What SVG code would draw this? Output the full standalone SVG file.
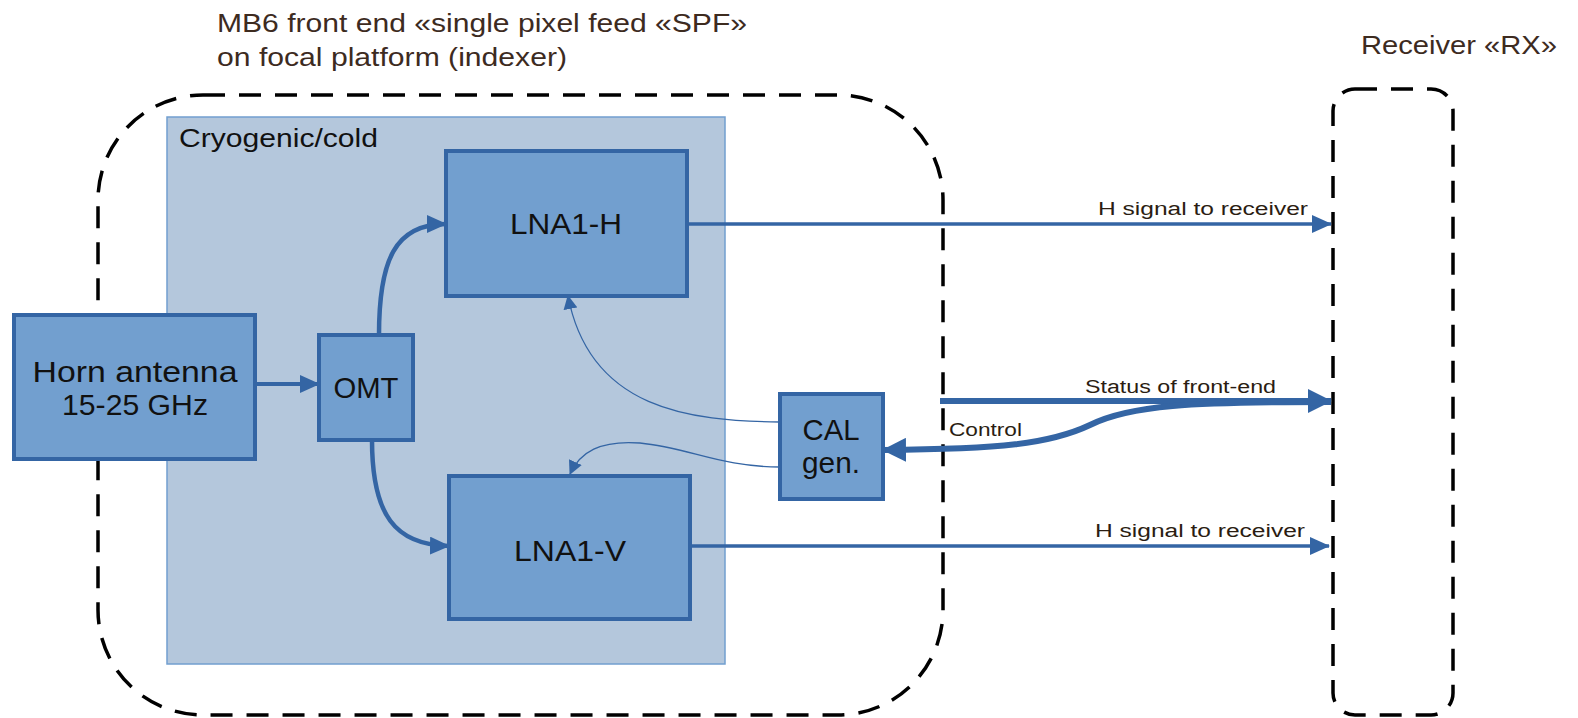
<svg xmlns="http://www.w3.org/2000/svg" width="1578" height="718" viewBox="0 0 1578 718">
<style>
.title{font-family:"Liberation Sans",Arial,sans-serif;font-size:25px;fill:#3d2b1f}
.lbl{font-family:"Liberation Sans",Arial,sans-serif;font-size:18px;fill:#2b1d12}
.node rect{fill:#729fcf;stroke:#3465a4;stroke-width:4}
.ntxt{font-family:"Liberation Sans",Arial,sans-serif;font-size:29px;fill:#111;text-anchor:middle}
.dash{fill:none;stroke:#000;stroke-width:3.5;stroke-dasharray:22 14}
.conn{fill:none;stroke:#3465a4}
</style>
<defs>
<marker id="aM" markerUnits="userSpaceOnUse" markerWidth="20" markerHeight="18" refX="19" refY="9" orient="auto"><path d="M0,0 L20,9 L0,18 z" fill="#3465a4"/></marker>
<marker id="aL" markerUnits="userSpaceOnUse" markerWidth="24" markerHeight="24" refX="23" refY="12" orient="auto"><path d="M0,0 L24,12 L0,24 z" fill="#3465a4"/></marker>
<marker id="aS" markerUnits="userSpaceOnUse" markerWidth="14" markerHeight="14" refX="13" refY="7" orient="auto"><path d="M0,0 L14,7 L0,14 z" fill="#3465a4"/></marker>
</defs>

<text class="title" x="217" y="32" textLength="530" lengthAdjust="spacingAndGlyphs">MB6 front end «single pixel feed «SPF»</text>
<text class="title" x="217" y="66" textLength="350" lengthAdjust="spacingAndGlyphs">on focal platform (indexer)</text>
<text class="title" x="1361" y="54" textLength="196" lengthAdjust="spacingAndGlyphs">Receiver «RX»</text>

<g id="frontend">
<rect class="dash" x="98" y="95" width="845" height="620" rx="105" ry="105"/>
</g>
<g id="receiver">
<rect class="dash" x="1333" y="89" width="120" height="626" rx="22" ry="22"/>
</g>
<g id="cryo">
<rect x="167" y="117" width="558" height="547" fill="#b4c7dc" stroke="#729fcf" stroke-width="1.5"/>
<text x="179" y="147" font-family="Liberation Sans,Arial,sans-serif" font-size="26" fill="#111" textLength="199" lengthAdjust="spacingAndGlyphs">Cryogenic/cold</text>
</g>

<g id="connectors">
<path class="conn" stroke-width="4" d="M255,384 L319,384" marker-end="url(#aM)"/>
<path class="conn" stroke-width="4.5" d="M379,335 C379,260 395,224 446,224" marker-end="url(#aM)"/>
<path class="conn" stroke-width="4.5" d="M372,440 C372,515 395,545 449,546" marker-end="url(#aM)"/>
<path class="conn" stroke-width="3.5" d="M687,224 L1331,224" marker-end="url(#aM)"/>
<path class="conn" stroke-width="3.5" d="M690,546 L1329,546" marker-end="url(#aM)"/>
<path class="conn" stroke-width="6" d="M940,401 L1331,401" marker-end="url(#aL)"/>
<path class="conn" stroke-width="6" d="M1331,402 C1190,402 1130,405 1090,425 C1050,444 1000,449 883,450" marker-end="url(#aL)"/>
<path class="conn" stroke-width="1.3" d="M780,422 C690,421 590,410 568,296" marker-end="url(#aS)"/>
<path class="conn" stroke-width="1.3" d="M780,467 C720,467 690,448 640,443 C600,440 580,452 570,474" marker-end="url(#aS)"/>
<text class="lbl" x="1098" y="215" textLength="210" lengthAdjust="spacingAndGlyphs">H  signal to receiver</text>
<text class="lbl" x="1095" y="537" textLength="210" lengthAdjust="spacingAndGlyphs">H  signal to receiver</text>
<text class="lbl" x="1085" y="393" textLength="191" lengthAdjust="spacingAndGlyphs">Status of front-end</text>
<text class="lbl" x="949" y="436" textLength="73" lengthAdjust="spacingAndGlyphs">Control</text>
</g>

<g id="horn" class="node">
<rect x="14" y="315" width="241" height="144"/>
<text class="ntxt" x="135" y="382" textLength="205" lengthAdjust="spacingAndGlyphs">Horn antenna</text>
<text class="ntxt" x="135" y="415" textLength="146" lengthAdjust="spacingAndGlyphs">15-25 GHz</text>
</g>
<g id="omt" class="node">
<rect x="319" y="335" width="94" height="105"/>
<text class="ntxt" x="366" y="398" textLength="65" lengthAdjust="spacingAndGlyphs">OMT</text>
</g>
<g id="lna1h" class="node">
<rect x="446" y="151" width="241" height="145"/>
<text class="ntxt" x="566" y="234" textLength="112" lengthAdjust="spacingAndGlyphs">LNA1-H</text>
</g>
<g id="lna1v" class="node">
<rect x="449" y="476" width="241" height="143"/>
<text class="ntxt" x="570" y="561" textLength="112" lengthAdjust="spacingAndGlyphs">LNA1-V</text>
</g>
<g id="cal" class="node">
<rect x="780" y="394" width="103" height="105"/>
<text class="ntxt" x="831" y="440" textLength="57" lengthAdjust="spacingAndGlyphs">CAL</text>
<text class="ntxt" x="831" y="473" textLength="58" lengthAdjust="spacingAndGlyphs">gen.</text>
</g>
</svg>
